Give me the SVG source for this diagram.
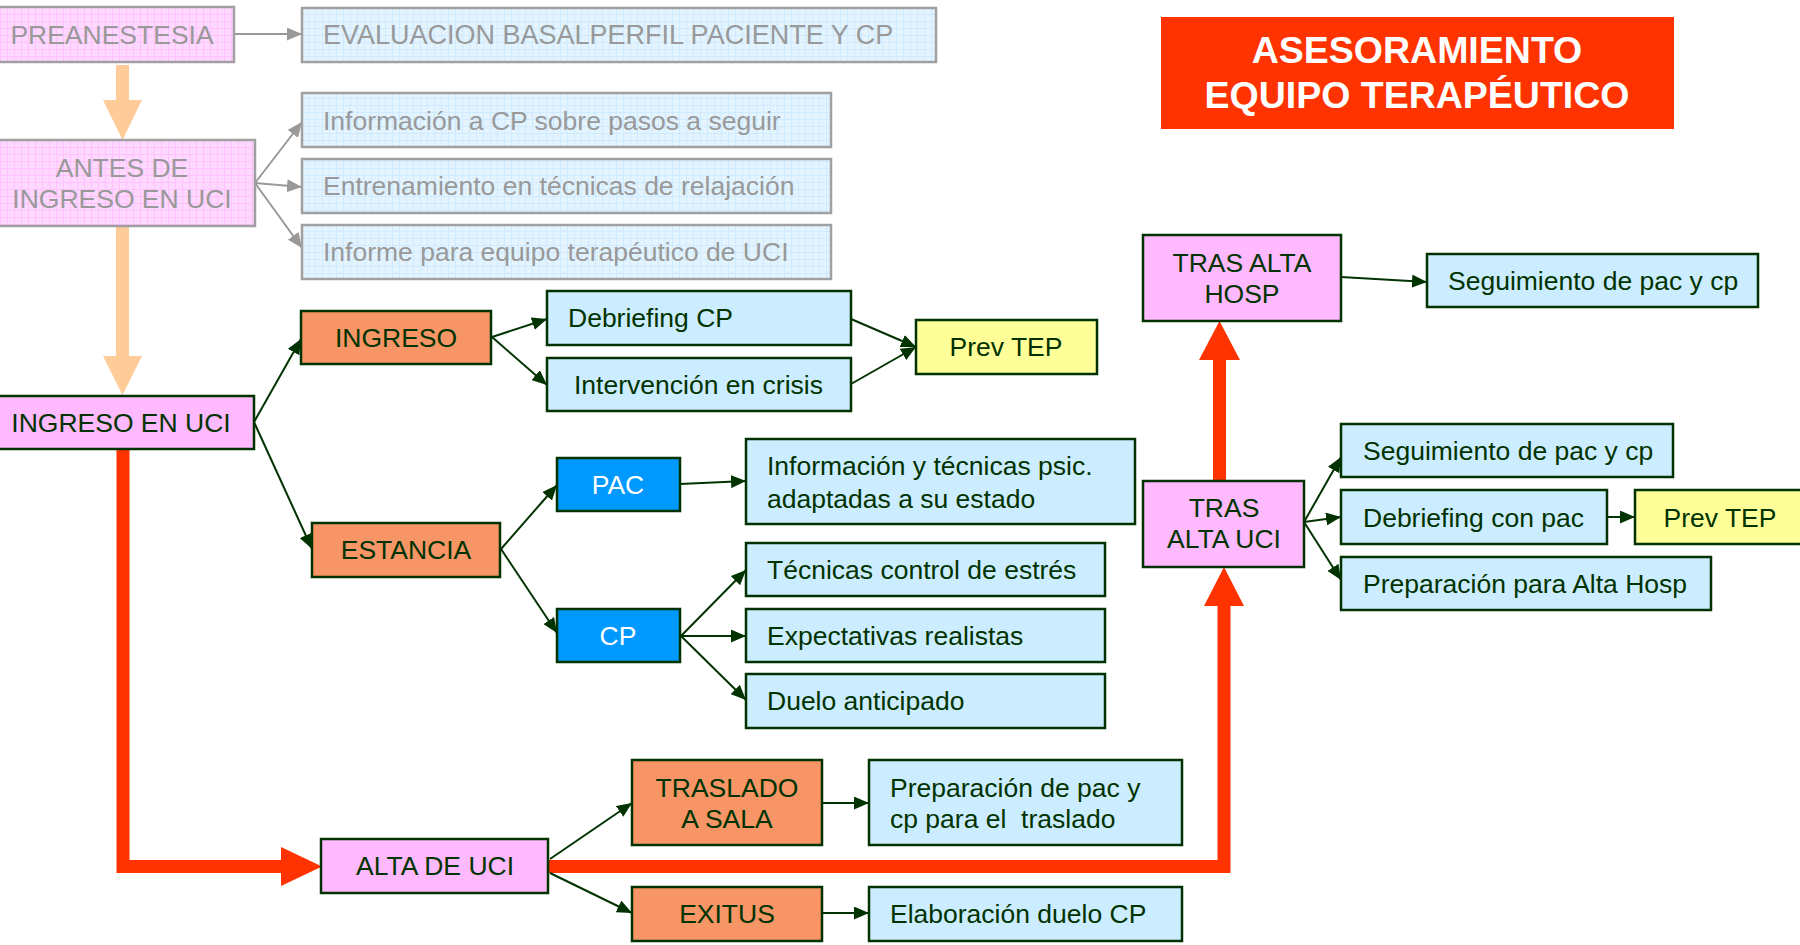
<svg xmlns="http://www.w3.org/2000/svg" width="1800" height="945" viewBox="0 0 1800 945">
  <defs>
    <style>
      text { font-family: "Liberation Sans", Arial, sans-serif; font-size: 26.5px; fill: #003300; }
      .c { text-anchor: middle; }
      .box { stroke: #003300; stroke-width: 2.5; }
      .pink { fill: #FFB9FF; }
      .blue { fill: #CCECFF; }
      .orange { fill: #F79566; }
      .dblue { fill: #0099FF; }
      .yellow { fill: #FFFF99; }
      .white { fill: #FFFFFF; }
      .faded { stroke: #A0A0A0; stroke-width: 2.5; }
      .ftext { fill: #999999; }
      .link { stroke: #003300; stroke-width: 2; fill: none; marker-end: url(#arrow); }
      .glink { stroke: #999999; stroke-width: 2; fill: none; marker-end: url(#garrow); }
      .red { stroke: #FF3300; stroke-width: 13; fill: none; stroke-linejoin: miter; }
      .redhead { fill: #FF3300; }
      .peach { fill: #FFCC99; }
      .title { font-weight: bold; font-size: 37.5px; fill: #FFFFFF; text-anchor: middle; }
    </style>
    <marker id="arrow" markerUnits="userSpaceOnUse" markerWidth="15" markerHeight="13" refX="15" refY="6.5" orient="auto">
      <path d="M0,0 L15,6.5 L0,13 Z" fill="#003300"/>
    </marker>
    <marker id="garrow" markerUnits="userSpaceOnUse" markerWidth="15" markerHeight="13" refX="15" refY="6.5" orient="auto">
      <path d="M0,0 L15,6.5 L0,13 Z" fill="#999999"/>
    </marker>
    <!-- fine grid texture for the pre-admission stage boxes -->
    <pattern id="gridPink" width="7" height="7" patternUnits="userSpaceOnUse">
      <rect width="7" height="7" fill="#FFD8FF"/>
      <path d="M0,0.5 H7 M0.5,0 V7" stroke="#FFC2FF" stroke-width="1"/>
    </pattern>
    <pattern id="gridBlue" width="7" height="7" patternUnits="userSpaceOnUse">
      <rect width="7" height="7" fill="#E3F4FF"/>
      <path d="M0,0.5 H7 M0.5,0 V7" stroke="#D0EAFF" stroke-width="1"/>
    </pattern>
  </defs>

  <rect width="1800" height="945" fill="#FFFFFF"/>

  <!-- thick flow arrows -->
  <g id="flow">
    <rect x="116" y="65" width="13" height="35" class="peach"/>
    <polygon points="103,100 142,100 122.5,140" class="peach"/>
    <rect x="116" y="226" width="13" height="130" class="peach"/>
    <polygon points="103,356 142,356 122.5,395" class="peach"/>

    <path d="M123,449 V866.5 H283" class="red"/>
    <polygon points="281,847 322,866.5 281,886" class="redhead"/>
    <path d="M548,866.5 H1224 V604" class="red"/>
    <polygon points="1204,606 1224,567 1244,606" class="redhead"/>
    <path d="M1219.5,481 V358" class="red"/>
    <polygon points="1199,360 1219.5,321 1240,360" class="redhead"/>
  </g>

  <!-- connectors -->
  <g id="connectors">
    <line x1="234" y1="34" x2="302" y2="34" class="glink"/>
    <line x1="255" y1="183" x2="302" y2="122" class="glink"/>
    <line x1="255" y1="183" x2="302" y2="187" class="glink"/>
    <line x1="255" y1="183" x2="302" y2="248" class="glink"/>

    <line x1="254" y1="422" x2="301" y2="339" class="link"/>
    <line x1="254" y1="422" x2="312" y2="549" class="link"/>
    <line x1="492" y1="337" x2="547" y2="319" class="link"/>
    <line x1="492" y1="337" x2="547" y2="385" class="link"/>
    <line x1="851" y1="319" x2="916" y2="347" class="link"/>
    <line x1="851" y1="384" x2="916" y2="347" class="link"/>
    <line x1="501" y1="549" x2="557" y2="485" class="link"/>
    <line x1="501" y1="549" x2="557" y2="633" class="link"/>
    <line x1="680" y1="484" x2="746" y2="481" class="link"/>
    <line x1="681" y1="636" x2="746" y2="570" class="link"/>
    <line x1="681" y1="636" x2="746" y2="636" class="link"/>
    <line x1="681" y1="636" x2="746" y2="700" class="link"/>
    <line x1="550" y1="859" x2="632" y2="803" class="link"/>
    <line x1="550" y1="873" x2="632" y2="913" class="link"/>
    <line x1="822" y1="803" x2="869" y2="803" class="link"/>
    <line x1="822" y1="913" x2="869" y2="913" class="link"/>
    <line x1="1304" y1="522" x2="1341" y2="457" class="link"/>
    <line x1="1304" y1="522" x2="1341" y2="517" class="link"/>
    <line x1="1304" y1="522" x2="1341" y2="580" class="link"/>
    <line x1="1607" y1="517" x2="1635" y2="517" class="link"/>
    <line x1="1341" y1="277" x2="1427" y2="282" class="link"/>
  </g>

  <!-- pre-admission stage -->
  <g id="preanestesia">
    <rect x="-5" y="7" width="239" height="55" fill="url(#gridPink)" class="faded"/>
    <text x="112" y="44" class="c ftext">PREANESTESIA</text>
  </g>
  <g id="evaluacion">
    <rect x="302" y="8" width="634" height="54" fill="url(#gridBlue)" class="faded"/>
    <text x="323" y="44" class="ftext" style="font-size:27px">EVALUACION BASALPERFIL PACIENTE Y CP</text>
  </g>
  <g id="antes-ingreso">
    <rect x="-5" y="140" width="260" height="86" fill="url(#gridPink)" class="faded"/>
    <text x="122" y="177" class="c ftext">ANTES DE</text>
    <text x="122" y="208" class="c ftext">INGRESO EN UCI</text>
  </g>
  <g id="info-cp">
    <rect x="302" y="93" width="529" height="54" fill="url(#gridBlue)" class="faded"/>
    <text x="323" y="130" class="ftext">Información a CP sobre pasos a seguir</text>
  </g>
  <g id="relajacion">
    <rect x="302" y="159" width="529" height="54" fill="url(#gridBlue)" class="faded"/>
    <text x="323" y="195" class="ftext">Entrenamiento en técnicas de relajación</text>
  </g>
  <g id="informe">
    <rect x="302" y="225" width="529" height="54" fill="url(#gridBlue)" class="faded"/>
    <text x="323" y="261" class="ftext">Informe para equipo terapéutico de UCI</text>
  </g>

  <!-- title -->
  <g id="titulo">
    <rect x="1161" y="17" width="513" height="112" fill="#FF3300"/>
    <text x="1417" y="63" class="title">ASESORAMIENTO</text>
    <text x="1417" y="108" class="title">EQUIPO TERAPÉUTICO</text>
  </g>

  <!-- ICU stay -->
  <g id="ingreso-uci">
    <rect x="-5" y="396" width="259" height="53" class="box pink"/>
    <text x="121" y="432" class="c">INGRESO EN UCI</text>
  </g>
  <g id="ingreso">
    <rect x="301" y="311" width="190" height="53" class="box orange"/>
    <text x="396" y="347" class="c">INGRESO</text>
  </g>
  <g id="debriefing-cp">
    <rect x="547" y="291" width="304" height="54" class="box blue"/>
    <text x="568" y="327">Debriefing CP</text>
  </g>
  <g id="intervencion">
    <rect x="547" y="358" width="304" height="53" class="box blue"/>
    <text x="574" y="394">Intervención en crisis</text>
  </g>
  <g id="prev-tep-1">
    <rect x="916" y="320" width="181" height="54" class="box yellow"/>
    <text x="1006" y="356" class="c">Prev TEP</text>
  </g>
  <g id="estancia">
    <rect x="312" y="523" width="188" height="54" class="box orange"/>
    <text x="406" y="559" class="c">ESTANCIA</text>
  </g>
  <g id="pac">
    <rect x="557" y="458" width="123" height="53" class="box dblue"/>
    <text x="618" y="494" class="c white">PAC</text>
  </g>
  <g id="info-tecnicas">
    <rect x="746" y="439" width="389" height="85" class="box blue"/>
    <text x="767" y="475">Información y técnicas psic.</text>
    <text x="767" y="508">adaptadas a su estado</text>
  </g>
  <g id="cp">
    <rect x="557" y="609" width="123" height="53" class="box dblue"/>
    <text x="618" y="645" class="c white">CP</text>
  </g>
  <g id="estres">
    <rect x="746" y="543" width="359" height="53" class="box blue"/>
    <text x="767" y="579">Técnicas control de estrés</text>
  </g>
  <g id="expectativas">
    <rect x="746" y="609" width="359" height="53" class="box blue"/>
    <text x="767" y="645">Expectativas realistas</text>
  </g>
  <g id="duelo">
    <rect x="746" y="674" width="359" height="54" class="box blue"/>
    <text x="767" y="710">Duelo anticipado</text>
  </g>

  <!-- ICU discharge -->
  <g id="alta-uci">
    <rect x="321" y="839" width="227" height="54" class="box pink"/>
    <text x="435" y="875" class="c">ALTA DE UCI</text>
  </g>
  <g id="traslado">
    <rect x="632" y="760" width="190" height="85" class="box orange"/>
    <text x="727" y="797" class="c">TRASLADO</text>
    <text x="727" y="828" class="c">A SALA</text>
  </g>
  <g id="prep-traslado">
    <rect x="869" y="760" width="313" height="85" class="box blue"/>
    <text x="890" y="797">Preparación de pac y</text>
    <text x="890" y="828" xml:space="preserve">cp para el  traslado</text>
  </g>
  <g id="exitus">
    <rect x="632" y="887" width="190" height="54" class="box orange"/>
    <text x="727" y="923" class="c">EXITUS</text>
  </g>
  <g id="elaboracion">
    <rect x="869" y="887" width="313" height="54" class="box blue"/>
    <text x="890" y="923">Elaboración duelo CP</text>
  </g>

  <!-- after ICU -->
  <g id="tras-alta-uci">
    <rect x="1143" y="481" width="161" height="86" class="box pink"/>
    <text x="1224" y="517" class="c">TRAS</text>
    <text x="1224" y="548" class="c">ALTA UCI</text>
  </g>
  <g id="seguimiento-uci">
    <rect x="1341" y="424" width="332" height="53" class="box blue"/>
    <text x="1363" y="460">Seguimiento de pac y cp</text>
  </g>
  <g id="debriefing-pac">
    <rect x="1341" y="490" width="266" height="54" class="box blue"/>
    <text x="1363" y="527">Debriefing con pac</text>
  </g>
  <g id="prev-tep-2">
    <rect x="1635" y="490" width="180" height="54" class="box yellow"/>
    <text x="1720" y="527" class="c">Prev TEP</text>
  </g>
  <g id="prep-alta-hosp">
    <rect x="1341" y="557" width="370" height="53" class="box blue"/>
    <text x="1363" y="593">Preparación para Alta Hosp</text>
  </g>
  <g id="tras-alta-hosp">
    <rect x="1143" y="235" width="198" height="86" class="box pink"/>
    <text x="1242" y="272" class="c">TRAS ALTA</text>
    <text x="1242" y="303" class="c">HOSP</text>
  </g>
  <g id="seguimiento-hosp">
    <rect x="1427" y="254" width="331" height="53" class="box blue"/>
    <text x="1448" y="290">Seguimiento de pac y cp</text>
  </g>
</svg>
